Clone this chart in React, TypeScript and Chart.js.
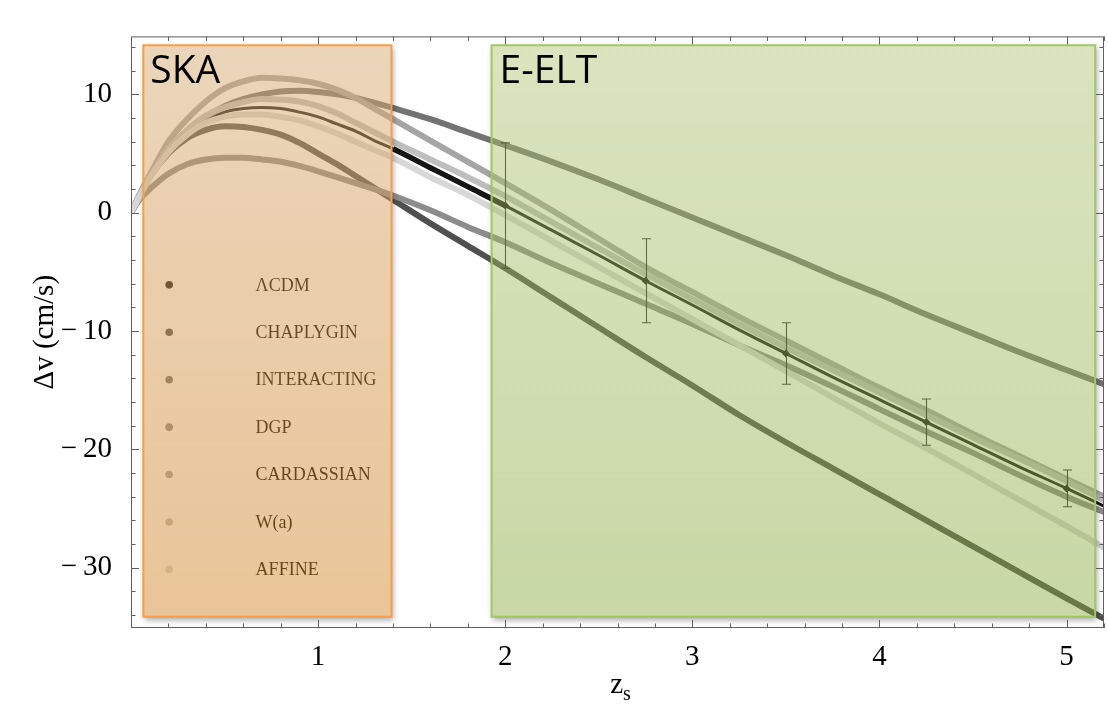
import React, { useEffect, useRef } from "react";
import { Chart, registerables } from "chart.js";

Chart.register(...registerables);

// ---- data ----
const zGrid = [0, 0.05, 0.1, 0.2, 0.3, 0.4, 0.5, 0.6, 0.7, 0.8, 0.9, 1.0, 1.1, 1.2, 1.3, 1.4, 1.6, 1.8, 2.0, 2.25, 2.5, 2.75, 3.0, 3.25, 3.5, 3.75, 4.0, 4.25, 4.5, 4.75, 5.0, 5.2];

const lcdmDv = [0, 1.6, 3.0, 5.3, 6.9, 7.9, 8.5, 8.8, 8.9, 8.8, 8.5, 8.1, 7.5, 6.9, 6.1, 5.4, 3.8, 2.2, 0.6, -1.5, -3.6, -5.75, -7.8, -9.9, -11.9, -13.9, -15.8, -17.7, -19.6, -21.5, -23.3, -24.8];
const chaplyginDv = [0, 1.5, 3.0, 5.0, 6.3, 7.0, 7.3, 7.25, 7.0, 6.6, 5.9, 5.0, 4.1, 3.1, 2.1, 1.1, -0.9, -2.8, -4.7, -7.2, -9.7, -12.2, -14.6, -17.1, -19.4, -21.6, -23.8, -26.0, -28.2, -30.4, -32.6, -34.3];
const interactingDv = [0, 1.6, 3.0, 5.2, 6.9, 8.1, 9.0, 9.6, 10.0, 10.25, 10.3, 10.2, 10.0, 9.7, 9.3, 8.85, 7.9, 6.8, 5.7, 4.3, 2.8, 1.2, -0.4, -2.0, -3.6, -5.3, -6.9, -8.6, -10.2, -11.8, -13.3, -14.5];
const dgpDv = [0, 1.2, 2.0, 3.3, 4.1, 4.5, 4.65, 4.65, 4.5, 4.3, 3.95, 3.5, 3.0, 2.5, 2.0, 1.45, 0.2, -1.2, -2.5, -4.3, -6.0, -7.7, -9.4, -11.2, -12.9, -14.7, -16.6, -18.5, -20.3, -22.2, -24.0, -25.3];
const cardassianDv = [0, 1.7, 3.2, 6.0, 7.9, 9.4, 10.5, 11.1, 11.4, 11.35, 11.2, 10.9, 10.4, 9.7, 8.8, 7.9, 6.1, 4.3, 2.5, 0.2, -2.2, -4.6, -6.7, -8.8, -10.8, -12.8, -14.8, -16.7, -18.7, -20.6, -22.5, -24.0];
const waDv = [0, 1.6, 3.0, 5.4, 7.0, 8.2, 8.9, 9.35, 9.6, 9.55, 9.4, 9.0, 8.4, 7.6, 6.8, 6.0, 4.5, 3.0, 1.4, -0.8, -3.0, -5.2, -7.3, -9.4, -11.4, -13.3, -15.2, -17.1, -19.0, -20.8, -22.7, -24.3];
const affineDv = [0, 1.5, 2.9, 5.1, 6.6, 7.6, 8.1, 8.3, 8.3, 8.1, 7.8, 7.3, 6.7, 6.0, 5.3, 4.65, 3.0, 1.5, -0.2, -2.4, -4.6, -6.8, -9.0, -11.2, -13.4, -15.6, -17.8, -19.9, -22.1, -24.3, -26.5, -28.3];

const modelLabels = ["ΛCDM", "CHAPLYGIN", "INTERACTING", "DGP", "CARDASSIAN", "W(a)", "AFFINE"];
const modelSeries = [lcdmDv, chaplyginDv, interactingDv, dgpDv, cardassianDv, waDv, affineDv];
const modelGray = [20, 80, 115, 140, 165, 190, 215];

const eeltZ = [2, 2.75, 3.5, 4.25, 5];
const eeltDv = [0.6, -5.75, -11.9, -17.7, -23.3];
const eeltSigma = [5.3, 3.55, 2.6, 1.95, 1.55];

const xMajorTicks = [1, 2, 3, 4, 5];
const yMajorTicks = [-30, -20, -10, 0, 10];

const X_MIN = 0;
const X_MAX = 5.2;
const Y_MIN = -35.1;
const Y_MAX = 14.9;

// regions (data units)
const skaRegion = { z0: 0.066, z1: 1.392, dvTop: 14.15, dvBottom: -34.15 };
const eeltRegion = { z0: 1.927, z1: 5.153, dvTop: 14.15, dvBottom: -34.15 };

// legend placement (data units)
const legendDotZ = 0.204;
const legendTextZ = 0.666;
const legendTopDv = -6.1;
const legendStepDv = 4.008;

const gray = (g: number) => `rgb(${g},${g},${g})`;

const xMinor: number[] = [];
for (let i = 1; i <= 26; i++) {
  const v = Math.round(i * 0.2 * 10) / 10;
  if (Math.abs(v - Math.round(v)) > 1e-6) xMinor.push(v);
}
const yMinor: number[] = [];
for (let v = -34; v <= 14; v += 2) {
  if (v % 10 !== 0) yMinor.push(v);
}

function drawBox(
  ctx: CanvasRenderingContext2D,
  l: number, t: number, r: number, b: number,
  topColor: string, botColor: string, alpha: number, border: string
) {
  ctx.save();
  ctx.beginPath();
  ctx.rect(0, 0, 5000, 5000);
  ctx.rect(l, t, r - l, b - t);
  ctx.clip("evenodd");
  ctx.shadowColor = "rgba(0,0,0,0.35)";
  ctx.shadowBlur = 6;
  ctx.shadowOffsetX = 10000 + 1.5;
  ctx.shadowOffsetY = 3;
  ctx.fillStyle = "#000";
  ctx.fillRect(l - 10000, t, r - l, b - t);
  ctx.restore();

  ctx.save();
  const g = ctx.createLinearGradient(0, t, 0, b);
  g.addColorStop(0, topColor);
  g.addColorStop(1, botColor);
  ctx.globalAlpha = alpha;
  ctx.fillStyle = g;
  ctx.fillRect(l, t, r - l, b - t);
  ctx.globalAlpha = 1;
  ctx.strokeStyle = border;
  ctx.lineWidth = 2;
  ctx.strokeRect(l, t, r - l, b - t);
  ctx.restore();
}

const decorPlugin = {
  id: "decor",
  afterDatasetsDraw(chart: any) {
    const { ctx, chartArea: ca } = chart;
    const xs = chart.scales.x;
    const ys = chart.scales.y;
    const X = (v: number) => xs.getPixelForValue(v);
    const Y = (v: number) => ys.getPixelForValue(v);

    ctx.save();
    ctx.beginPath();
    ctx.rect(ca.left, ca.top, ca.right - ca.left, ca.bottom - ca.top);
    ctx.clip();

    // error bars
    ctx.strokeStyle = "rgba(20,20,20,0.9)";
    ctx.lineWidth = 1.1;
    eeltZ.forEach((z, i) => {
      const px = Math.round(X(z)) + 0.5;
      const t = Y(eeltDv[i] + eeltSigma[i]);
      const b = Y(eeltDv[i] - eeltSigma[i]);
      ctx.beginPath();
      ctx.moveTo(px, t);
      ctx.lineTo(px, b);
      ctx.moveTo(px - 4.5, t);
      ctx.lineTo(px + 4.5, t);
      ctx.moveTo(px - 4.5, b);
      ctx.lineTo(px + 4.5, b);
      ctx.stroke();
    });

    // legend
    ctx.textBaseline = "middle";
    ctx.textAlign = "left";
    ctx.font = '18px "Liberation Serif"';
    modelLabels.forEach((lab, i) => {
      const py = Y(legendTopDv - legendStepDv * i);
      ctx.fillStyle = gray(modelGray[i]);
      ctx.beginPath();
      ctx.arc(X(legendDotZ), py, 3.8, 0, Math.PI * 2);
      ctx.fill();
      ctx.fillStyle = "#000";
      ctx.fillText(lab, X(legendTextZ), py + 1);
    });

    // translucent regions
    const sl = X(skaRegion.z0), sr = X(skaRegion.z1), st = Y(skaRegion.dvTop), sb = Y(skaRegion.dvBottom);
    drawBox(ctx, sl, st, sr, sb, "rgb(214,170,115)", "rgb(210,135,45)", 0.49, "rgb(247,158,70)");
    const el = X(eeltRegion.z0), er = X(eeltRegion.z1), et = Y(eeltRegion.dvTop), eb = Y(eeltRegion.dvBottom);
    drawBox(ctx, el, et, er, eb, "rgb(173,196,115)", "rgb(135,168,58)", 0.45, "rgb(163,198,98)");

    ctx.fillStyle = "#000";
    ctx.textBaseline = "alphabetic";
    ctx.font = '39px "Open Sans"';
    ctx.fillText("SKA", sl + 7, st + 38);
    ctx.fillText("E-ELT", el + 8, et + 38);

    ctx.restore();

    // frame with inward ticks
    ctx.save();
    ctx.strokeStyle = "rgb(95,95,95)";
    ctx.lineWidth = 1;
    ctx.strokeRect(ca.left + 0.5, ca.top + 0.5, ca.right - ca.left - 1, ca.bottom - ca.top - 1);
    ctx.beginPath();
    const xt = (v: number, len: number) => {
      const px = Math.round(X(v)) + 0.5;
      ctx.moveTo(px, ca.bottom);
      ctx.lineTo(px, ca.bottom - len);
      ctx.moveTo(px, ca.top);
      ctx.lineTo(px, ca.top + len);
    };
    const yt = (v: number, len: number) => {
      const py = Math.round(Y(v)) + 0.5;
      ctx.moveTo(ca.left, py);
      ctx.lineTo(ca.left + len, py);
      ctx.moveTo(ca.right, py);
      ctx.lineTo(ca.right - len, py);
    };
    xMajorTicks.forEach((v) => xt(v, 8));
    xMinor.forEach((v) => xt(v, 4.5));
    yMajorTicks.forEach((v) => yt(v, 8));
    yMinor.forEach((v) => yt(v, 4.5));
    ctx.stroke();
    ctx.restore();
  },
  afterDraw(chart: any) {
    const { ctx, chartArea: ca } = chart;
    ctx.save();
    ctx.fillStyle = "#000";
    const cx = (ca.left + ca.right) / 2 + 3;
    ctx.font = '29px "Liberation Serif"';
    const zw = ctx.measureText("z").width;
    ctx.font = '20px "Liberation Serif"';
    const sw = ctx.measureText("s").width;
    const start = cx - (zw + sw) / 2;
    ctx.textAlign = "left";
    ctx.textBaseline = "alphabetic";
    ctx.font = '29px "Liberation Serif"';
    ctx.fillText("z", start, 693);
    ctx.font = '20px "Liberation Serif"';
    ctx.fillText("s", start + zw, 700);
    ctx.translate(45, (ca.top + ca.bottom) / 2);
    ctx.rotate(-Math.PI / 2);
    ctx.textAlign = "center";
    ctx.textBaseline = "middle";
    ctx.font = '29px "Liberation Serif"';
    ctx.fillText("Δv (cm/s)", 0, 0);
    ctx.restore();
  },
};

export default function App() {
  const ref = useRef<HTMLCanvasElement>(null);
  useEffect(() => {
    document.body.style.margin = "0";
    document.body.style.overflow = "hidden";
    const datasets: any[] = modelLabels.map((lab, i) => ({
      label: lab,
      data: zGrid.map((z, k) => ({ x: z, y: modelSeries[i][k] })),
      borderColor: gray(modelGray[i]),
      backgroundColor: gray(modelGray[i]),
      borderWidth: 6,
      pointRadius: 0,
      cubicInterpolationMode: "monotone",
      fill: false,
      order: 10 - i,
      segment:
        i === 0
          ? {
              borderWidth: (c: any) =>
                c.p0.parsed.x >= 1.35 && c.p1.parsed.x <= 2.01 ? 5.5 : 3,
            }
          : undefined,
    }));
    datasets.push({
      label: "E-ELT",
      data: eeltZ.map((z, k) => ({ x: z, y: eeltDv[k] })),
      showLine: false,
      pointStyle: "rectRot",
      pointRadius: 4,
      pointBackgroundColor: "rgb(15,15,15)",
      pointBorderColor: "rgb(15,15,15)",
      pointBorderWidth: 0,
      order: 0,
    });

    const chart = new Chart(ref.current as HTMLCanvasElement, {
      type: "line",
      data: { datasets },
      options: {
        animation: false,
        responsive: false,
        devicePixelRatio: 1,
        events: [],
        layout: { padding: { top: 25, right: 1, left: 0, bottom: 0 } },
        plugins: { legend: { display: false }, tooltip: { enabled: false } },
        scales: {
          x: {
            type: "linear",
            min: X_MIN,
            max: X_MAX,
            bounds: "data",
            grid: { display: false, drawTicks: false },
            border: { display: false },
            afterBuildTicks: (s: any) => {
              s.ticks = xMajorTicks.map((v) => ({ value: v }));
            },
            afterFit: (s: any) => {
              s.height = 78;
            },
            ticks: {
              padding: 12,
              color: "#000",
              maxRotation: 0,
              autoSkip: false,
              font: { family: "Liberation Serif", size: 29 },
              callback: (v: any) => String(v),
            },
          },
          y: {
            type: "linear",
            min: Y_MIN,
            max: Y_MAX,
            bounds: "data",
            grid: { display: false, drawTicks: false },
            border: { display: false },
            afterBuildTicks: (s: any) => {
              s.ticks = yMajorTicks.map((v) => ({ value: v }));
            },
            afterFit: (s: any) => {
              s.width = 131;
            },
            ticks: {
              padding: 19,
              color: "#000",
              autoSkip: false,
              font: { family: "Liberation Serif", size: 29 },
              callback: (v: any) => (v < 0 ? "\u2212\u2009" + Math.abs(v) : String(v)),
            },
          },
        },
      },
      plugins: [decorPlugin],
    });
    return () => chart.destroy();
  }, []);
  return (
    <div style={{ width: 1108, height: 706, background: "#fff" }}>
      <canvas ref={ref} width={1108} height={706} style={{ display: "block", width: 1108, height: 706 }} />
    </div>
  );
}
